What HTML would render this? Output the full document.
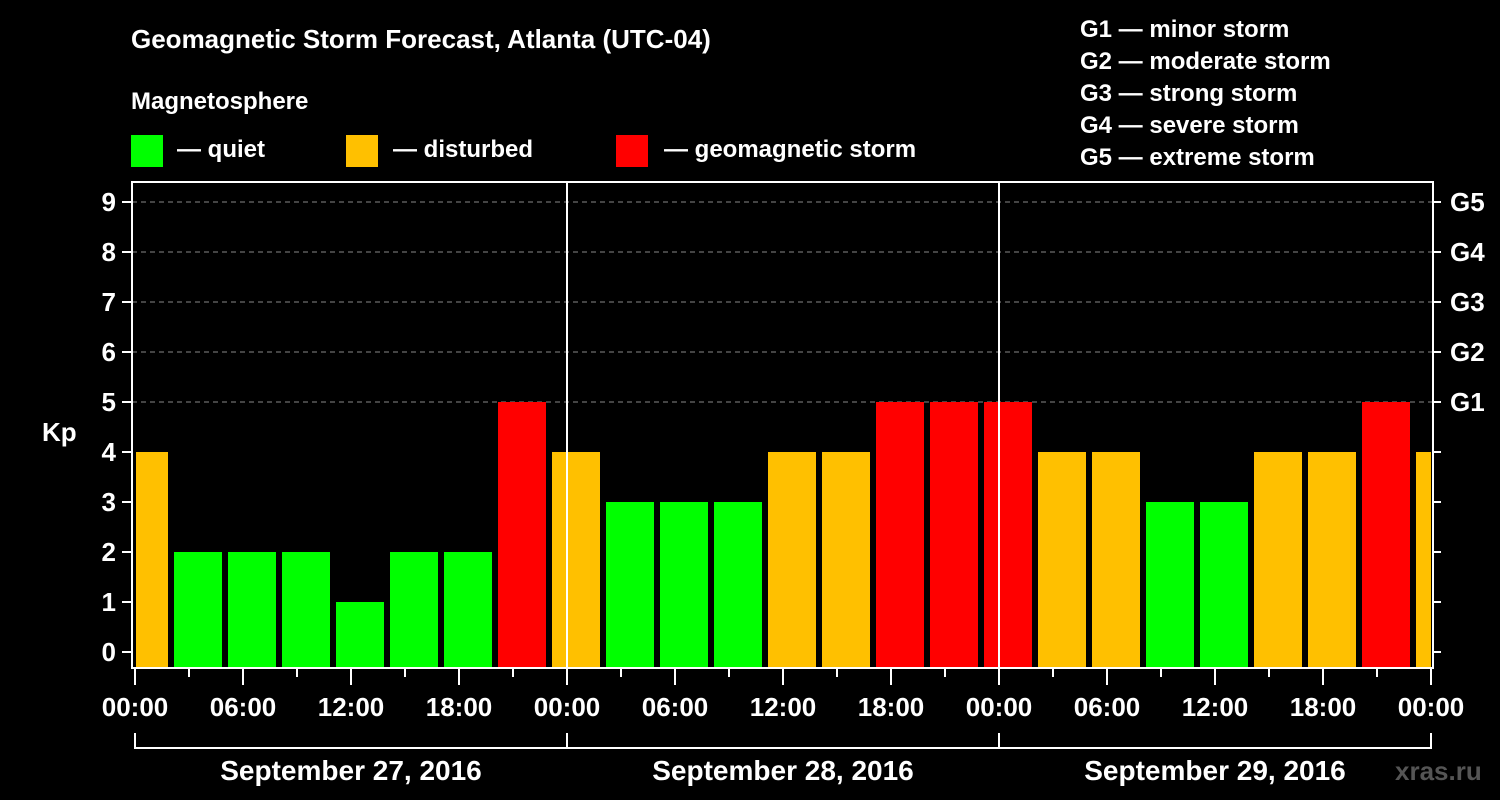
<!DOCTYPE html>
<html><head><meta charset="utf-8"><style>
body{margin:0;background:#000;}
svg{display:block;font-family:"Liberation Sans",Arial,sans-serif;font-weight:bold;}
</style></head><body>
<svg id="chart" width="1500" height="800" viewBox="0 0 1500 800" xmlns="http://www.w3.org/2000/svg">
<rect width="1500" height="800" fill="#000"/>
<text x="131" y="48" fill="#fff" font-size="26">Geomagnetic Storm Forecast, Atlanta (UTC-04)</text>
<text x="131" y="109" fill="#fff" font-size="24">Magnetosphere</text>
<g><rect x="131" y="135" width="32" height="32" fill="#00ff00"/><text x="177" y="157" fill="#fff" font-size="24">— quiet</text></g>
<g><rect x="346" y="135" width="32" height="32" fill="#ffc000"/><text x="393" y="157" fill="#fff" font-size="24">— disturbed</text></g>
<g><rect x="616" y="135" width="32" height="32" fill="#ff0000"/><text x="664" y="157" fill="#fff" font-size="24">— geomagnetic storm</text></g>
<g fill="#fff" font-size="24">
<text x="1080" y="37">G1 — minor storm</text>
<text x="1080" y="69">G2 — moderate storm</text>
<text x="1080" y="101">G3 — strong storm</text>
<text x="1080" y="133">G4 — severe storm</text>
<text x="1080" y="165">G5 — extreme storm</text>
</g>
<g id="grid"></g>
<g id="bars"></g>
<g id="axes"></g>
<text x="42" y="441" fill="#fff" font-size="26">Kp</text>
<text x="1395" y="780" fill="#555" font-size="26">xras.ru</text>
</svg>
<script>
const kpValues=[4,2,2,2,1,2,2,5,4,3,3,3,4,4,5,5,5,4,4,3,3,4,4,5,4];
const yTicks=[0,1,2,3,4,5,6,7,8,9];
const gLabels=["G1","G2","G3","G4","G5"];
const gLevels=[5,6,7,8,9];
const hourLabels=["00:00","06:00","12:00","18:00","00:00","06:00","12:00","18:00","00:00","06:00","12:00","18:00","00:00"];
const dayLabels=["September 27, 2016","September 28, 2016","September 29, 2016"];
const NS="http://www.w3.org/2000/svg";
const L=132,R=1433,T=182,B=668;
const X0=135,PXH=18;
const xs=h=>X0+h*PXH;
const ys=v=>652-v*50;
function mk(p,tag,a){const e=document.createElementNS(NS,tag);for(const k in a)e.setAttribute(k,a[k]);p.appendChild(e);return e;}
const grid=document.getElementById('grid'),bars=document.getElementById('bars'),axes=document.getElementById('axes');
gLevels.forEach(v=>{const l=mk(grid,'line',{x1:L,x2:R,y1:ys(v),y2:ys(v),stroke:'#888','stroke-width':1,'stroke-dasharray':'5,4'});

});
kpValues.forEach((v,k)=>{
 const c=xs(3*k+0.5);let x1=Math.max(c-24,L+4),x2=Math.min(c+24,R-2);
 const col=v>=5?'#ff0000':(v>=4?'#ffc000':'#00ff00');
 const r=mk(bars,'rect',{x:x1,y:ys(v),width:x2-x1,height:B-1-ys(v),fill:col});
 
 
});
// frame
const fr=mk(axes,'rect',{x:L,y:T,width:R-L,height:B-T,fill:'none',stroke:'#fff','stroke-width':2});


[1,2].forEach(d=>{const l=mk(axes,'line',{x1:xs(24*d),x2:xs(24*d),y1:T,y2:B,stroke:'#fff','stroke-width':2});

});
yTicks.forEach(v=>{
 mk(axes,'line',{x1:L-10,x2:L,y1:ys(v),y2:ys(v),stroke:'#fff','stroke-width':2});
 mk(axes,'line',{x1:R,x2:R+8,y1:ys(v),y2:ys(v),stroke:'#fff','stroke-width':2});
 const t=mk(axes,'text',{x:L-16,y:ys(v)+9,fill:'#fff','font-size':26,'text-anchor':'end'});t.textContent=v;
 
 
});
gLabels.forEach((g,i)=>{const t=mk(axes,'text',{x:1450,y:ys(gLevels[i])+9,fill:'#fff','font-size':26});t.textContent=g;
 
 });
for(let h=0;h<=72;h+=3){mk(axes,'line',{x1:xs(h),x2:xs(h),y1:B,y2:h%6?677:685,stroke:'#fff','stroke-width':2});}
hourLabels.forEach((s,i)=>{const t=mk(axes,'text',{x:xs(6*i),y:716,fill:'#fff','font-size':26,'text-anchor':'middle'});t.textContent=s;
 
 });
dayLabels.forEach((s,i)=>{
 const a=xs(24*i),b=xs(24*(i+1));
 mk(axes,'path',{d:`M${a},733V748H${b}V733`,fill:'none',stroke:'#fff','stroke-width':2});
 const t=mk(axes,'text',{x:(a+b)/2,y:780,fill:'#fff','font-size':28,'text-anchor':'middle'});t.textContent=s;
 
 
});
</script>
</body></html>
